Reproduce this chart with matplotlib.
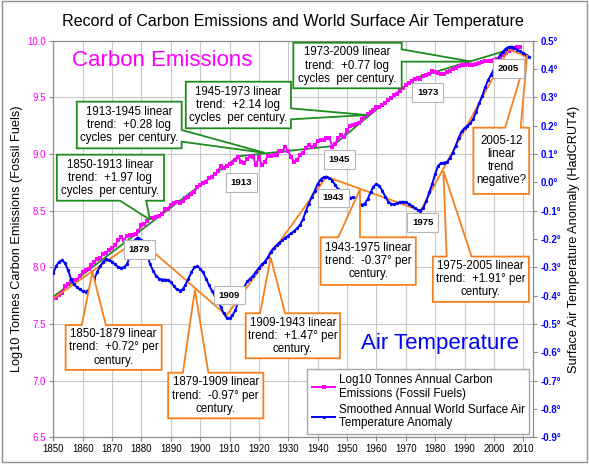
"""
Record of Carbon Emissions and World Surface Air Temperature
log10 fossil-fuel carbon (left) vs smoothed HadCRUT4 anomaly (right)
"""

import matplotlib
matplotlib.use("Agg")
import matplotlib.pyplot as plt
from matplotlib import font_manager
from matplotlib.patches import Polygon, Rectangle
import numpy as np

plt.rcParams["font.family"] = ["Liberation Sans", "DejaVu Sans"]

# ── Data ─────────────────────────────────────────────────────────────────────
CARBON_YEARS = list(range(1850, 2010))
# annual fossil-fuel emissions, million tonnes carbon
CARBON_MTC = [
    54, 54, 57, 59, 69, 71, 76, 77, 78, 83,
    91, 95, 97, 104, 112, 119, 122, 130, 135, 142,
    147, 156, 173, 184, 174, 188, 191, 194, 196, 210,
    236, 243, 256, 272, 275, 277, 281, 295, 327, 327,
    356, 372, 374, 370, 383, 406, 419, 440, 465, 507,
    534, 552, 566, 617, 624, 663, 707, 784, 750, 785,
    819, 836, 879, 943, 850, 838, 901, 955, 936, 806,
    932, 803, 845, 970, 963, 975, 983, 1062, 1065, 1145,
    1053, 940, 847, 893, 973, 1027, 1130, 1209, 1142, 1192,
    1299, 1334, 1342, 1391, 1383, 1160, 1238, 1392, 1469, 1419,
    1630, 1768, 1796, 1841, 1865, 2043, 2178, 2270, 2330, 2462,
    2577, 2594, 2700, 2848, 3008, 3145, 3305, 3411, 3588, 3800,
    4076, 4231, 4399, 4635, 4644, 4615, 4883, 5029, 5105, 5387,
    5332, 5168, 5127, 5110, 5290, 5444, 5610, 5753, 5965, 6097,
    6127, 6217, 6164, 6162, 6266, 6398, 6542, 6651, 6643, 6610,
    6765, 6927, 6996, 7416, 7807, 8093, 8370, 8566, 8783, 8740,
]

TEMP_YEARS = list(range(1850, 2013))
TEMP_ANOM = [
    -0.320, -0.295, -0.280, -0.275, -0.285, -0.310, -0.340, -0.360, -0.370, -0.378,
    -0.384, -0.386, -0.380, -0.365, -0.340, -0.315, -0.295, -0.280, -0.272, -0.274,
    -0.280, -0.290, -0.298, -0.302, -0.300, -0.290, -0.265, -0.225, -0.200, -0.195,
    -0.205, -0.230, -0.258, -0.290, -0.312, -0.330, -0.340, -0.343, -0.343, -0.345,
    -0.352, -0.365, -0.378, -0.382, -0.378, -0.362, -0.340, -0.318, -0.300, -0.296,
    -0.305, -0.318, -0.340, -0.362, -0.383, -0.402, -0.420, -0.440, -0.462, -0.478,
    -0.480, -0.470, -0.450, -0.420, -0.395, -0.370, -0.350, -0.340, -0.330, -0.315,
    -0.302, -0.290, -0.280, -0.265, -0.245, -0.232, -0.222, -0.213, -0.205, -0.195,
    -0.188, -0.180, -0.172, -0.162, -0.150, -0.130, -0.100, -0.075, -0.050, -0.030,
    -0.005, 0.010, 0.018, 0.020, 0.015, 0.006, -0.010, -0.025, -0.040, -0.052,
    -0.055, -0.054, -0.053, -0.056, -0.070, -0.080, -0.075, -0.060, -0.035, -0.015,
    -0.006, -0.012, -0.030, -0.050, -0.068, -0.076, -0.078, -0.074, -0.070, -0.068,
    -0.070, -0.076, -0.083, -0.090, -0.097, -0.100, -0.090, -0.065, -0.035, -0.005,
    0.030, 0.058, 0.068, 0.070, 0.072, 0.085, 0.105, 0.130, 0.158, 0.180,
    0.192, 0.200, 0.208, 0.225, 0.250, 0.280, 0.305, 0.335, 0.360, 0.380,
    0.400, 0.425, 0.448, 0.460, 0.472, 0.478, 0.479, 0.474, 0.468, 0.462,
    0.456, 0.450, 0.443,
]

# piecewise linear trends: (start year, end year, start value, end value)
CARBON_TRENDS = [
    (1850, 1913, 7.74, 8.98),
    (1913, 1945, 8.98, 9.07),
    (1945, 1973, 9.07, 9.67),
    (1973, 2009, 9.67, 9.95),
]
TEMP_TRENDS = [
    (1850, 1879, -0.41, -0.20),
    (1879, 1909, -0.20, -0.47),
    (1909, 1943, -0.47, 0.02),
    (1943, 1975, 0.02, -0.10),
    (1975, 2005, -0.10, 0.47),
    (2005, 2012, 0.47, 0.44),
]

# callouts: text, box (x0, x1, y0, y1), side of pointer, pointer base, tip
CARBON_NOTES = [
    ("1850-1913 linear\ntrend:  +1.97 log\ncycles  per century.",
     (1851.2, 1887.7, 8.588, 8.994), "bottom", (1872.7, 1881.6), (1882.9, 8.42)),
    ("1913-1945 linear\ntrend:  +0.28 log\ncycles  per century.",
     (1858.0, 1893.7, 9.050, 9.462), "right", (9.109, 9.212), (1922.0, 9.01)),
    ("1945-1973 linear\ntrend:  +2.14 log\ncycles  per century.",
     (1895.1, 1930.9, 9.227, 9.638), "right", (9.306, 9.403), (1956.7, 9.344)),
    ("1973-2009 linear\ntrend:  +0.77 log\ncycles  per century.",
     (1931.7, 1968.6, 9.580, 9.982), "right", (9.815, 9.924), (1992.4, 9.815)),
]
TEMP_NOTES = [
    ("1850-1879 linear\ntrend:  +0.72° per\ncentury.",
     (1854.2, 1886.9, -0.662, -0.504), "top", (1859.7, 1867.9), (1863.3, -0.316)),
    ("1879-1909 linear\ntrend:  -0.97° per\ncentury.",
     (1889.1, 1921.5, -0.833, -0.672), "top", (1894.1, 1902.8), (1898.2, -0.380)),
    ("1909-1943 linear\ntrend:  +1.47° per\ncentury.",
     (1915.5, 1947.6, -0.621, -0.462), "top", (1920.4, 1928.9), (1924.0, -0.265)),
    ("1943-1975 linear\ntrend:  -0.37° per\ncentury.",
     (1941.0, 1973.4, -0.362, -0.194), "top", (1947.0, 1954.4), (1954.4, -0.025)),
    ("1975-2005 linear\ntrend:  +1.91° per\ncentury.",
     (1979.2, 2011.9, -0.422, -0.262), "top", (1983.9, 1992.4), (1982.8, 0.040)),
    ("2005-12\nlinear\ntrend\nnegative?",
     (1993.0, 2012.0, -0.041, 0.193), "top", (2003.8, 2009.1), (2011.3, 0.450)),
]

# year tags (year, log10 position)
YEAR_TAGS = [
    ("1879", 1879.3, 8.159),
    ("1909", 1909.9, 7.755),
    ("1913", 1914.1, 8.747),
    ("1943", 1945.3, 8.614),
    ("1945", 1947.4, 8.953),
    ("1975", 1975.8, 8.394),
    ("1973", 1977.5, 9.541),
    ("2005", 2004.9, 9.756),
]

MAGENTA = "#FF00FF"
BLUE = "#0000FF"
GREEN = "#1E8C1E"
ORANGE = "#F7801E"
GRAY = "#8C8C8C"


def callout(axis, trans, text, box, side, base, tip, color):
    x0, x1, y0, y1 = box
    b0, b1 = base
    pts = [(x0, y0)]
    if side == "bottom":
        pts += [(b0, y0), tip, (b1, y0)]
    pts.append((x1, y0))
    if side == "right":
        pts += [(x1, b0), tip, (x1, b1)]
    pts.append((x1, y1))
    if side == "top":
        pts += [(b1, y1), tip, (b0, y1)]
    pts.append((x0, y1))
    axis.add_patch(Polygon(pts, closed=True, transform=trans, fc="white",
                           ec=color, lw=1.3, zorder=5, clip_on=False))
    axis.text((x0 + x1) / 2, (y0 + y1) / 2, text, transform=trans,
              ha="center", va="center", multialignment="center",
              fontsize=8.3, linespacing=1.12, zorder=6)


# ── Figure ───────────────────────────────────────────────────────────────────
fig = plt.figure(figsize=(5.89, 4.66), dpi=100)
ax = fig.add_axes([53.3 / 589, 28.7 / 466, 480 / 589, 396.6 / 466])
ax2 = ax.twinx()

carbon_log = np.log10(np.array(CARBON_MTC, dtype=float) * 1e6)

ax.grid(True, color="#C8C8C8", lw=0.8)
ax.set_axisbelow(True)

for y0, y1, v0, v1 in CARBON_TRENDS:
    ax.plot([y0, y1], [v0, v1], color=GREEN, lw=1.3, zorder=2)
pink, = ax.plot(CARBON_YEARS, carbon_log, color=MAGENTA, lw=1.4,
                marker="s", ms=2.2, mew=0, zorder=3)

for y0, y1, v0, v1 in TEMP_TRENDS:
    ax2.plot([y0, y1], [v0, v1], color=ORANGE, lw=1.3, zorder=2)
blue, = ax2.plot(TEMP_YEARS, TEMP_ANOM, color=BLUE, lw=1.4,
                 marker="o", ms=2.4, mew=0, zorder=3)

ax.set_xlim(1850, 2013.4)
ax.set_ylim(6.5, 10.0)
ax2.set_ylim(-0.9, 0.5)

ax.set_xticks(range(1850, 2011, 10))
ax.set_xticklabels([str(y) for y in range(1850, 2011, 10)], fontsize=7)
ax.set_yticks(np.arange(6.5, 10.01, 0.5))
ax.set_yticklabels([f"{v:.1f}" for v in np.arange(6.5, 10.01, 0.5)],
                   fontsize=7, color=MAGENTA)
temp_ticks = np.round(np.arange(-0.9, 0.51, 0.1), 1)
ax2.set_yticks(temp_ticks)
ax2.set_yticklabels([f"{abs(v) if v == 0 else v:.1f}°" for v in temp_ticks],
                    fontsize=7, color=BLUE, fontweight="bold")

ax.tick_params(axis="both", direction="out", length=3, color=GRAY, pad=2)
ax2.tick_params(axis="y", direction="out", length=3, color=GRAY, pad=2)
for a in (ax, ax2):
    for sp in a.spines.values():
        sp.set_color(GRAY)

ax.set_ylabel("Log10 Tonnes Carbon Emissions (Fossil Fuels)", fontsize=9.2)
ax.yaxis.set_label_coords(-0.064, 0.5)
ax2.set_ylabel("Surface Air Temperature Anomaly (HadCRUT4)", fontsize=9.2)
ax2.yaxis.set_label_coords(1.072, 0.5)

# ── Annotations ──────────────────────────────────────────────────────────────
for text, box, side, base, tip in CARBON_NOTES:
    callout(ax2, ax.transData, text, box, side, base, tip, GREEN)
for text, box, side, base, tip in TEMP_NOTES:
    callout(ax2, ax2.transData, text, box, side, base, tip, ORANGE)

for label, yr, val in YEAR_TAGS:
    ax2.text(yr, val, label, transform=ax.transData, ha="center", va="center",
             fontsize=6.8, fontweight="bold", zorder=7,
             bbox=dict(boxstyle="square,pad=0.5", fc="white", ec="#B4B4B4", lw=0.8))

ax2.text(0.038, 0.951, "Carbon Emissions", transform=ax2.transAxes,
         color=MAGENTA, fontsize=16, ha="left", va="center", zorder=7)
ax2.text(0.641, 0.237, "Air Temperature", transform=ax2.transAxes,
         color=BLUE, fontsize=16, ha="left", va="center", zorder=7)

ax2.legend([pink, blue],
           ["Log10 Tonnes Annual Carbon\nEmissions (Fossil Fuels)",
            "Smoothed Annual World Surface Air\nTemperature Anomaly"],
           loc="lower right", bbox_to_anchor=(0.992, 0.008), fontsize=8.4,
           frameon=True, fancybox=False, edgecolor="#A8A8A8", framealpha=1,
           borderaxespad=0, handlelength=2.0, handletextpad=0.3,
           labelspacing=0.35, borderpad=0.4)

names = {f.name for f in font_manager.fontManager.ttflist}
if "Liberation Sans Narrow" in names:
    fig.text(0.4975, 0.953, "Record of Carbon Emissions and World Surface Air Temperature",
             family="Liberation Sans Narrow", fontsize=13.2, ha="center", va="center")
else:
    fig.text(0.4975, 0.953, "Record of Carbon Emissions and World Surface Air Temperature",
             fontsize=11.6, ha="center", va="center")

fig.patches.append(Rectangle((2 / 589, 4 / 466), 585 / 589, 461 / 466,
                             transform=fig.transFigure, fill=False,
                             ec="#909090", lw=1.0))

fig.savefig("out.png", dpi=100)
print("Saved → out.png")
